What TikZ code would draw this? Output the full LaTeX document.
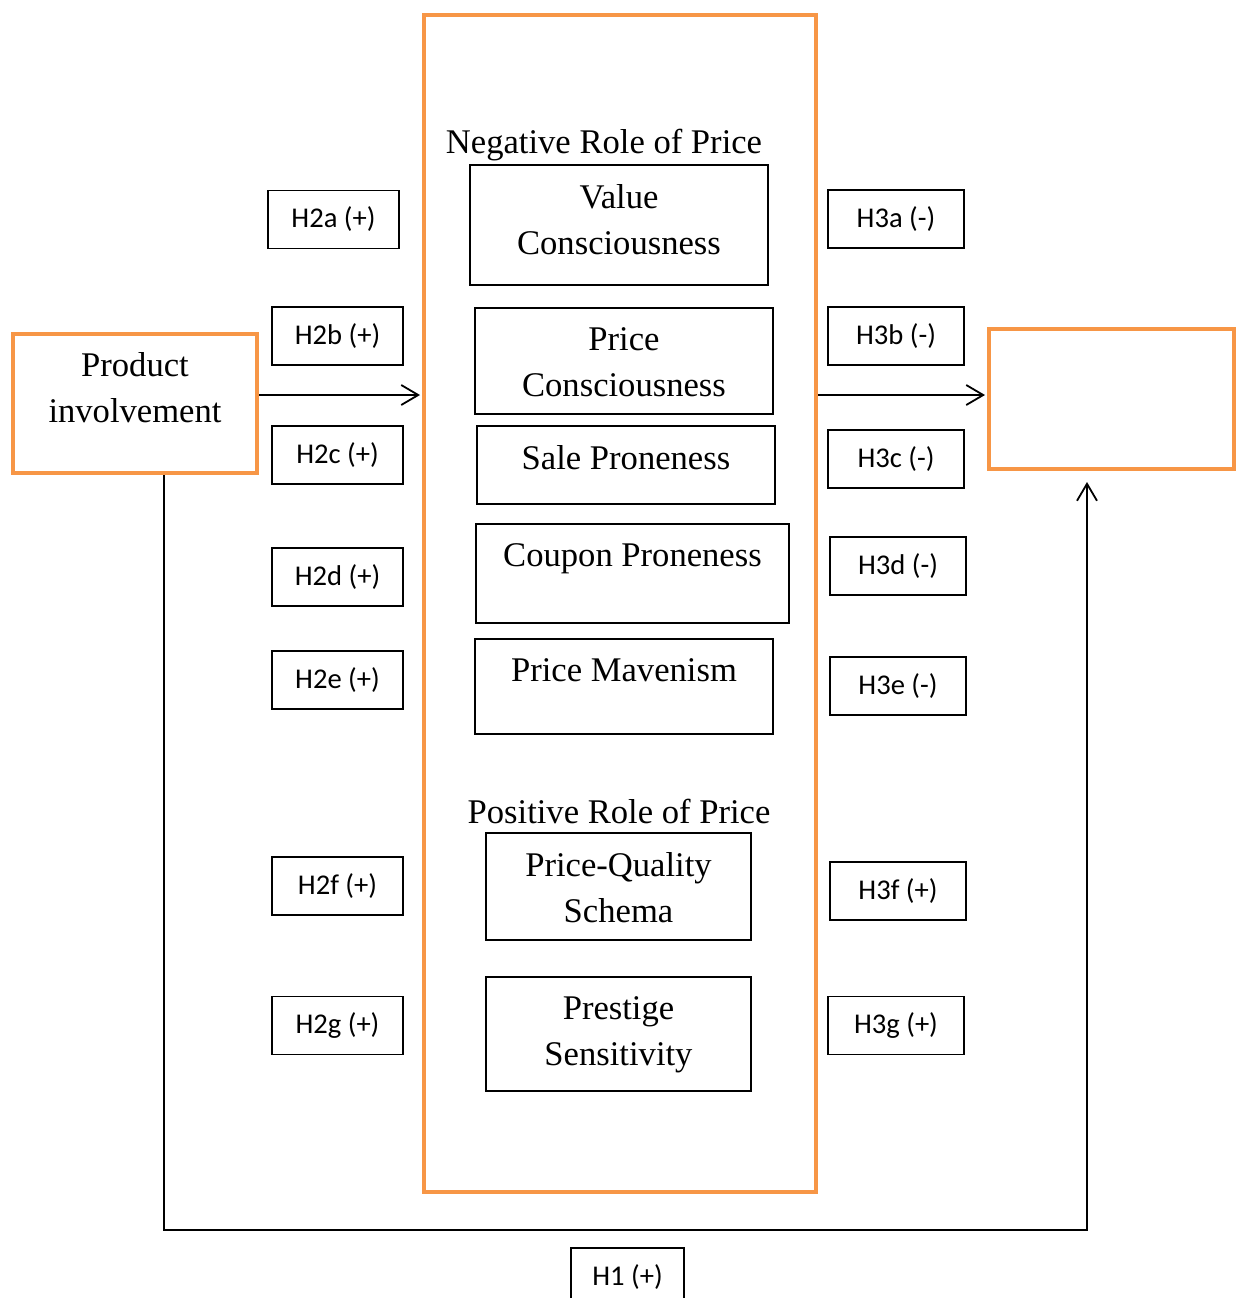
\documentclass[tikz,border=0pt]{standalone}
\usepackage{fontspec}
\setmainfont{Liberation Serif}
\newfontfamily\hypfont{Carlito}
\usetikzlibrary{positioning,arrows.meta}

\definecolor{accentorange}{HTML}{F79646}

\begin{document}
\begin{tikzpicture}[x=0.5pt,y=-0.5pt,
    roletext/.style={inner sep=0pt, align=center, font=\fontsize{17.3}{23}\selectfont},
    rolebox/.style={draw, line width=0.7pt, inner sep=0pt},
    hyp/.style={draw, line width=0.8pt, minimum height=29pt, inner sep=0pt, font=\hypfont\fontsize{14.3}{16}\selectfont},
    orangebox/.style={draw=accentorange, line width=2pt, inner sep=0pt},
    arr/.style={line width=0.9pt, -{Straight Barb[length=8.5pt,width=10pt]}}]

    \useasboundingbox (0,0) rectangle (1241,1298);
    \clip (0,0) rectangle (1241,1298);

    % constructs
    \node[orangebox, minimum width=196pt, minimum height=588.5pt] (roles) at (620,603.5) {};
    \node[orangebox, minimum width=122pt, minimum height=69.5pt] (product) at (135,403.5) {};
    \node[orangebox, minimum width=122.5pt, minimum height=70pt] (outcome) at (1111.5,399) {};
    \node[roletext, below=10pt of product.north] (producttext) {Product\\involvement};

    \node[roletext, anchor=base] (negtitle) at (604,153) {Negative Role of Price};
    \node[roletext, anchor=base] (postitle) at (619,823) {Positive Role of Price};

    % price perceptions
    \node[rolebox, minimum width=149pt, minimum height=60pt] (value) at (619,225) {};
    \node[rolebox, minimum width=149pt, minimum height=53pt] (pricec) at (624,361) {};
    \node[rolebox, minimum width=149pt, minimum height=39pt] (sale) at (626,465) {};
    \node[rolebox, minimum width=156.5pt, minimum height=49.5pt] (coupon) at (632.5,573.5) {};
    \node[rolebox, minimum width=149pt, minimum height=47.5pt] (maven) at (624,686.5) {};
    \node[rolebox, minimum width=132.5pt, minimum height=53.5pt] (quality) at (618.5,886.5) {};
    \node[rolebox, minimum width=132.5pt, minimum height=57pt] (prestige) at (618.5,1034) {};

    \node[roletext, below=9.7pt of value.north] (valuetext) {Value\\Consciousness};
    \node[roletext, below=9.7pt of pricec.north] (pricectext) {Price\\Consciousness};
    \node[roletext, below=9.7pt of sale.north] (saletext) {Sale Proneness};
    \node[roletext, below=9.7pt of coupon.north] (coupontext) {Coupon Proneness};
    \node[roletext, below=9.7pt of maven.north] (maventext) {Price Mavenism};
    \node[roletext, below=9.7pt of quality.north] (qualitytext) {Price-Quality\\Schema};
    \node[roletext, below=9.7pt of prestige.north] (prestigetext) {Prestige\\Sensitivity};

    % hypotheses
    \node[hyp, minimum width=65.5pt] (h2a) at (333.5,219.5) {H2a (+)};
    \node[hyp, minimum width=65.5pt] (h2b) at (337.5,336) {H2b (+)};
    \node[hyp, minimum width=65.5pt] (h2c) at (337.5,455) {H2c (+)};
    \node[hyp, minimum width=65.5pt] (h2d) at (337.5,577) {H2d (+)};
    \node[hyp, minimum width=65.5pt] (h2e) at (337.5,680) {H2e (+)};
    \node[hyp, minimum width=65.5pt] (h2f) at (337.5,886) {H2f (+)};
    \node[hyp, minimum width=65.5pt] (h2g) at (337.5,1025.5) {H2g (+)};

    \node[hyp, minimum width=68pt] (h3a) at (896,219) {H3a (-)};
    \node[hyp, minimum width=68pt] (h3b) at (896,336) {H3b (-)};
    \node[hyp, minimum width=68pt] (h3c) at (896,459) {H3c (-)};
    \node[hyp, minimum width=68pt] (h3d) at (898,566) {H3d (-)};
    \node[hyp, minimum width=68pt] (h3e) at (898,686) {H3e (-)};
    \node[hyp, minimum width=68pt] (h3f) at (898,891) {H3f (+)};
    \node[hyp, minimum width=68pt] (h3g) at (896,1025.5) {H3g (+)};

    \node[hyp, minimum width=56.5pt] (h1) at (627.5,1277) {H1 (+)};

    % paths
    \draw[arr] (product.east |- 0,395) -- ([xshift=-1pt]roles.west |- 0,395);
    \draw[arr] (roles.east |- 0,395) -- ([xshift=-1pt]outcome.west |- 0,395);

    \coordinate (loop) at (1087,1230);
    \draw[arr, shorten >=5.5pt] ([xshift=14.5pt]product.south) |- (loop) -- (loop |- outcome.south);

\end{tikzpicture}
\end{document}
